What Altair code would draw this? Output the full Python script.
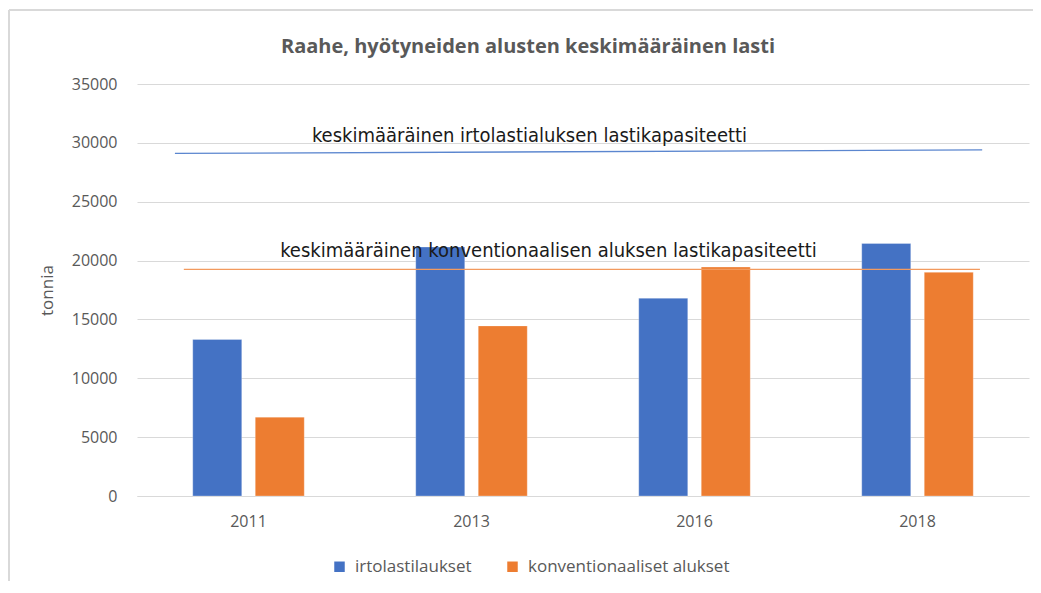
import altair as alt
import pandas as pd

years = ["2011", "2013", "2016", "2018"]
bulk = [13300, 21150, 16800, 21450]
conv = [6700, 14450, 19450, 19000]
series = ["irtolastilaukset", "konventionaaliset alukset"]
colors = ["#4472C4", "#ED7D31"]

# capacity reference lines (x in category units 0..4)
bulk_cap_x = [0.17, 3.79]
bulk_cap_y = [29100, 29400]
conv_cap_x = [0.21, 3.78]
conv_cap_y = [19250, 19250]

label_text = ["keskimääräinen irtolastialuksen lastikapasiteetti",
              "keskimääräinen konventionaalisen aluksen lastikapasiteetti"]
label_x = [1.76, 1.845]
label_y = [30550, 20850]

bars_df = pd.DataFrame({
    "year": years * 2,
    "series": [series[0]] * 4 + [series[1]] * 4,
    "value": bulk + conv,
})
lines_df = pd.DataFrame({
    "x": bulk_cap_x + conv_cap_x,
    "value": bulk_cap_y + conv_cap_y,
    "line": ["bulk", "bulk", "conv", "conv"],
})
text_df = pd.DataFrame({"x": label_x, "value": label_y, "t": label_text})

yscale = alt.Scale(domain=[0, 35000])
yaxis = alt.Axis(values=list(range(0, 35001, 5000)), format="d", grid=True, domain=False, ticks=False,
                 labelPadding=20, titlePadding=15)
yenc = alt.Y("value:Q", scale=yscale, title="tonnia", axis=yaxis)

bars = alt.Chart(bars_df).mark_bar(stroke="white", strokeOpacity=0.35, strokeWidth=0.8).encode(
    x=alt.X("year:N", sort=years, title=None,
            scale=alt.Scale(paddingInner=0.5, paddingOuter=0.25),
            axis=alt.Axis(labelAngle=0, domain=True, domainColor="#D9D9D9", ticks=False,
                          labelPadding=17, grid=False)),
    xOffset=alt.XOffset("series:N", sort=series, scale=alt.Scale(paddingInner=0.216, paddingOuter=0)),
    y=yenc,
    color=alt.Color("series:N", sort=series, scale=alt.Scale(domain=series, range=colors),
                    legend=alt.Legend(title=None, orient="none", direction="horizontal",
                                      legendX=194, legendY=474, symbolType="square",
                                      symbolSize=110, symbolStrokeWidth=0, labelFontSize=17,
                                      labelColor="#595959", labelFont="Open Sans", columnPadding=32,
                                      labelOffset=7, labelLimit=400)),
)

xq = alt.Scale(domain=[0, 4])
lines = alt.Chart(lines_df).mark_line(strokeWidth=1.3).encode(
    x=alt.X("x:Q", scale=xq, axis=None),
    y=yenc,
    detail="line:N",
    color=alt.Color("line:N", scale=alt.Scale(domain=["bulk", "conv"], range=["#5B86CF", "#F39A5E"]),
                    legend=None),
)

texts = alt.Chart(text_df).mark_text(font="'DejaVu Sans Condensed', Lato", fontSize=20, color="#1a1a1a").encode(
    x=alt.X("x:Q", scale=xq, axis=None),
    y=yenc,
    text="t:N",
)

# chart frame (left and top edges of the outer chart box)
frame_left = alt.Chart().mark_rule(color="#D9D9D9", strokeWidth=2).encode(
    x=alt.value(-128), y=alt.value(-74), y2=alt.value(520))
frame_top = alt.Chart().mark_rule(color="#D9D9D9", strokeWidth=2).encode(
    x=alt.value(-128), x2=alt.value(910), y=alt.value(-74))

chart = alt.layer(frame_left, frame_top, bars, lines, texts).resolve_scale(
    x="independent", color="independent").properties(
    width=892, height=412,
    background="white",
    autosize=alt.AutoSizeParams(type="none"),
    padding={"left": 129, "top": 76, "right": 4, "bottom": 85},
    title=alt.TitleParams("Raahe, hyötyneiden alusten keskimääräinen lasti", fontSize=20,
                          font="Open Sans", fontWeight="bold", color="#595959", anchor="middle",
                          dx=-55, offset=-48),
).configure_view(stroke=None).configure_axis(
    labelFont="Open Sans", labelFontSize=16, labelColor="#595959",
    titleFont="Open Sans", titleFontSize=17, titleColor="#595959", titleFontWeight="normal",
    gridColor="#D9D9D9", gridWidth=1,
)

chart.save("out.html", embed_options={"renderer": "svg", "actions": False})
